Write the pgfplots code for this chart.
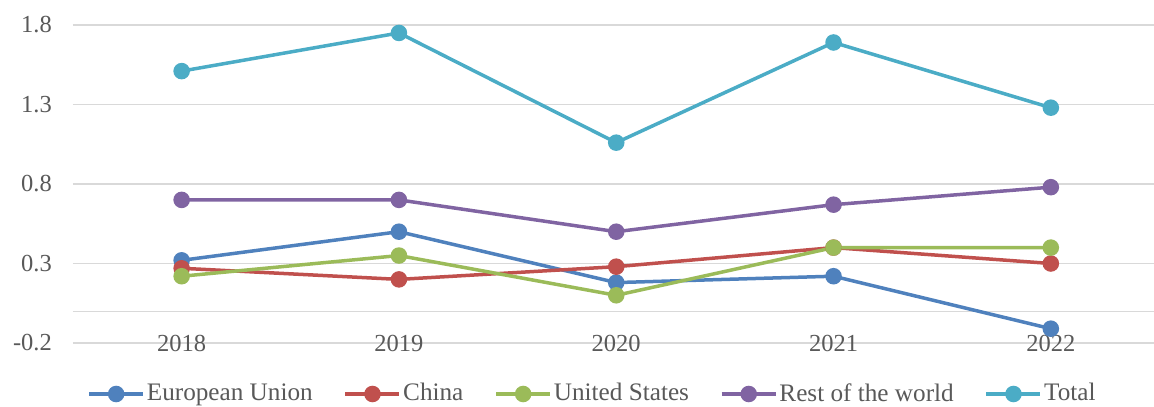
\documentclass[border=0pt]{standalone}
\usepackage{fontspec}
\setmainfont{Liberation Serif}
\usepackage{pgfplots}
\pgfplotsset{compat=1.18}
\definecolor{cEU}{HTML}{4F81BD}
\definecolor{cCN}{HTML}{C0504D}
\definecolor{cUS}{HTML}{9BBB59}
\definecolor{cRW}{HTML}{8064A2}
\definecolor{cTO}{HTML}{4BACC6}
\definecolor{gridc}{HTML}{D9D9D9}
\definecolor{txt}{HTML}{595959}
\begin{document}
\fontsize{24bp}{28bp}\selectfont
\begin{tikzpicture}
\useasboundingbox (-73bp,-64bp) rectangle (1081bp,343bp);
\begin{axis}[
  at={(0,0)}, anchor=south west,
  scale only axis, width=1081bp, height=318bp,
  xmin=-0.5, xmax=4.475, ymin=-0.2, ymax=1.8,
  xtick={0,1,2,3,4}, xticklabels={2018,2019,2020,2021,2022},
  ytick={-0.2,0.3,0.8,1.3,1.8},
  yticklabels={-0.2,0.3,0.8,1.3,1.8},
  extra y ticks={0}, extra y tick labels={},
  extra y tick style={grid=major},
  ymajorgrids, grid style={gridc, line width=1.3bp},
  axis line style={draw=none},
  major tick length=0pt,
  tick label style={font=\fontsize{24.5bp}{28bp}\selectfont, text=txt},
  xticklabel style={anchor=base, inner sep=0pt, yshift=-8bp},
  yticklabel style={anchor=east, inner sep=0pt, xshift=-21bp},
  clip=false,
  every axis plot/.append style={line width=3.5bp, mark=*, mark size=6.5bp},
  legend columns=5,
  legend style={at={(0.5,0)}, anchor=center, yshift=-51bp, xshift=-21bp, draw=none, fill=none,
    font=\fontsize{25.2bp}{28bp}\selectfont, text=txt,
    /tikz/every even column/.append style={column sep=29bp},
    inner sep=0pt},
  legend image code/.code={
    \draw[mark repeat=2, mark phase=2] plot coordinates {(0bp,0bp) (27bp,0bp) (54bp,0bp)};},
]
\addplot[cEU, mark options={fill=cEU}] coordinates {(0,0.32) (1,0.50) (2,0.18) (3,0.22) (4,-0.11)};
\addlegendentry{European Union}
\addplot[cCN, mark options={fill=cCN}] coordinates {(0,0.27) (1,0.20) (2,0.28) (3,0.40) (4,0.30)};
\addlegendentry{China}
\addplot[cUS, mark options={fill=cUS}] coordinates {(0,0.22) (1,0.35) (2,0.10) (3,0.40) (4,0.40)};
\addlegendentry{United States}
\addplot[cRW, mark options={fill=cRW}] coordinates {(0,0.70) (1,0.70) (2,0.50) (3,0.67) (4,0.78)};
\addlegendentry{Rest of the world}
\addplot[cTO, mark options={fill=cTO}] coordinates {(0,1.51) (1,1.75) (2,1.06) (3,1.69) (4,1.28)};
\addlegendentry{Total}
\end{axis}
\end{tikzpicture}
\end{document}
